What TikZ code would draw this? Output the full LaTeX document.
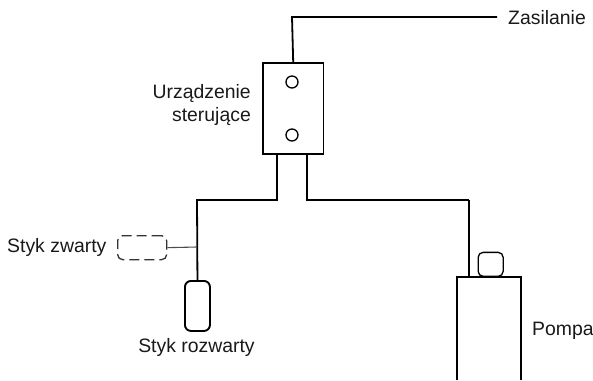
\documentclass[tikz,border=0pt]{standalone}
\usepackage{fontspec}
\setmainfont{Liberation Sans}
\tikzset{
  x=1pt,y=-1pt,
  wire/.style={line width=1.8pt,line join=miter},
  thin wire/.style={line width=1.1pt,draw=black!70},
  part/.style={draw,line width=1.9pt,minimum width=0pt,inner sep=0pt},
  lbl/.style={font=\fontsize{19.4}{22.5}\selectfont,inner sep=0pt,text=black!90},
  pin/.style={circle,draw,line width=1.3pt,minimum size=12pt,inner sep=0pt},
}
\begin{document}
\begin{tikzpicture}
\useasboundingbox (0,0) rectangle (593,380);
% control unit
\node[part,rectangle,minimum width=60.5pt,minimum height=91pt,anchor=north west] (ctrl) at (262,62) {};
\node[pin] (p1) at (292,82) {};
\node[pin] (p2) at (292,135) {};
% coordinates
\coordinate (supplyEnd) at (497,17);
\node[lbl,anchor=west] (zas) at (508,18) {Zasilanie};
\draw[wire] (ctrl.north) -- (292,17) -- (supplyEnd);
% pump
\coordinate (pumpTL) at (457,277);
\coordinate (pumpTR) at (521,277);
\draw[line width=1.9pt] (457,380) -- (pumpTL) -- (pumpTR) -- (521,380);
\node[part,rectangle,rounded corners=5pt,line width=1.3pt,minimum width=25pt,minimum height=24pt,anchor=south west] (oz) at (477.5,277) {};
% contacts
\node[part,rectangle,rounded corners=6pt,minimum width=25pt,minimum height=50pt,anchor=north west] (open) at (184,280) {};
\node[rectangle,draw=black!80,line width=1.3pt,dash pattern=on 10pt off 5pt,rounded corners=5pt,minimum width=49pt,minimum height=24pt,inner sep=0pt,anchor=north west] (closed) at (117,235) {};
% wires
\draw[wire] (277,153) -- (277,200) -- (197,200) -- (open.north);
\draw[wire] (307,153) -- (307,200) -- (469,200);
\draw[line width=1.2pt] (469,200) -- (469,277);
\coordinate (junc) at (197,247);
\draw[thin wire] (closed.east) -- (junc);
% labels
\node[lbl,align=right,anchor=east] (urz) at (251,105) {Urządzenie\\sterujące};
\node[lbl,anchor=west] (sz) at (7,247) {Styk zwarty};
\node[lbl,anchor=base] (sr) at (196.5,352) {Styk rozwarty};
\node[lbl,anchor=west] (pom) at (532,331) {Pompa};
\end{tikzpicture}
\end{document}
